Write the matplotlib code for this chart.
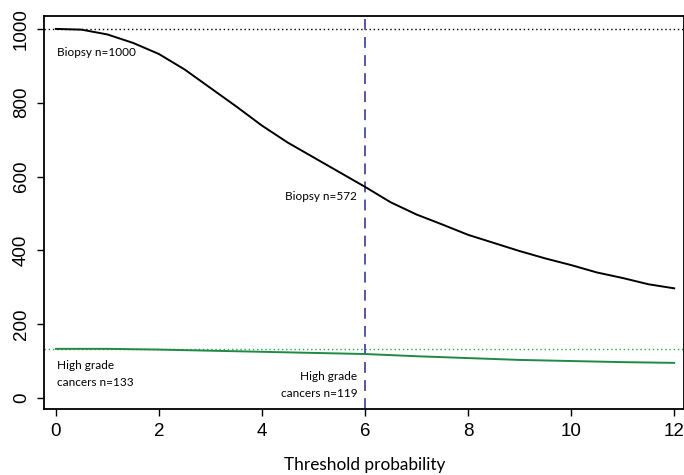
import matplotlib
matplotlib.use("Agg")
import matplotlib.pyplot as plt

threshold = [0, 0.5, 1, 1.5, 2, 2.5, 3, 3.5, 4, 4.5, 5, 5.5, 6, 6.5, 7, 7.5, 8, 8.5, 9, 9.5, 10, 10.5, 11, 11.5, 12]
biopsy = [1000, 998, 985, 962, 932, 890, 840, 790, 738, 692, 652, 612, 572, 530, 497, 470, 442, 420, 398, 378, 360, 340, 325, 308, 297]
hg_x = [0, 1, 2, 3, 4, 5, 6, 7, 8, 9, 10, 11, 12]
high_grade = [133, 133, 131, 128, 125, 122, 119, 113, 108, 103, 100, 97, 95]
x_ticks = [0, 2, 4, 6, 8, 10, 12]
y_ticks = [0, 200, 400, 600, 800, 1000]

fig = plt.figure(figsize=(6.84, 4.75), dpi=100)
ax = fig.add_axes([44/684, 1-409/475, 640/684, 393/475])

ax.axhline(1000, color="black", linestyle=(0, (1, 2)), linewidth=1)
ax.axhline(133, color="#2ca84a", linestyle=(0, (1, 2)), linewidth=1)
ax.axvline(6, color="#4a4a9c", linestyle=(0, (6, 4)), linewidth=1.3)
ax.plot(threshold, biopsy, color="black", linewidth=1.4)
ax.plot(hg_x, high_grade, color="#1f8a45", linewidth=1.4)

ax.set_xlim(-0.23, 12.19)
ax.set_ylim(-30, 1035)
ax.set_xticks(x_ticks)
ax.set_yticks(y_ticks)
tf = dict(family="Liberation Sans", size=13.5)
ax.set_xticklabels([str(t) for t in x_ticks], **tf)
ax.set_yticklabels([str(t) for t in y_ticks], rotation=90, va="center", **tf)
ax.tick_params(length=5, width=1, pad=5)
for s in ax.spines.values():
    s.set_linewidth(1.3)

af = dict(family="Lato", size=8.5)
ax.text(0.02, 935, "Biopsy n=1000", ha="left", va="center", **af)
ax.text(5.85, 545, "Biopsy n=572", ha="right", va="center", **af)
ax.text(0.02, 65, "High grade\ncancers n=133", ha="left", va="center", linespacing=1.7, **af)
ax.text(5.85, 35, "High grade\ncancers n=119", ha="right", va="center", linespacing=1.7, **af)

fig.text(365/684, 1-465/475, "Threshold probability", ha="center", va="center", family="Lato", size=12.4)

fig.savefig("out.png", dpi=100)
